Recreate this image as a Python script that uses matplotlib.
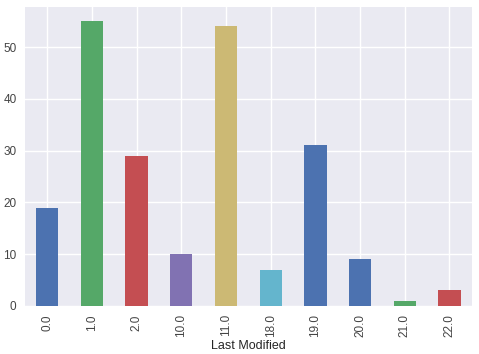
import matplotlib
matplotlib.use("Agg")
import matplotlib.pyplot as plt

categories = ["0.0", "1.0", "2.0", "10.0", "11.0", "18.0", "19.0", "20.0", "21.0", "22.0"]
values = [19, 55, 29, 10, 54, 7, 31, 9, 1, 3]
bar_colors = ["#4C72B0", "#55A868", "#C44E52", "#8172B2", "#CCB974", "#64B5CD",
              "#4C72B0", "#4C72B0", "#55A868", "#C44E52"]
xlabel = "Last Modified"

plt.rcParams['font.family'] = ['Liberation Sans', 'DejaVu Sans']
fig = plt.figure(figsize=(4.79, 3.54), dpi=100)
ax = fig.add_axes([0.052, 0.136, 0.933, 0.844])
ax.set_facecolor("#EAEAF2")
x = list(range(len(values)))
ax.bar(x, values, width=0.5, color=bar_colors, zorder=2)
ax.set_xlim(-0.5, len(values) - 0.5)
ax.set_ylim(0, max(values) * 1.05)
ax.set_xticks(x)
ax.set_xticklabels(categories, rotation=90)
ax.set_yticks([0, 10, 20, 30, 40, 50])
ax.grid(True, color="white", linewidth=1, zorder=0)
ax.set_axisbelow(True)
for s in ax.spines.values():
    s.set_visible(False)
ax.tick_params(length=0, labelsize=8.5, colors="#444444", pad=6)
ax.set_xlabel(xlabel, fontsize=9, color="#262626", labelpad=2)
fig.savefig("out.png", dpi=100)
